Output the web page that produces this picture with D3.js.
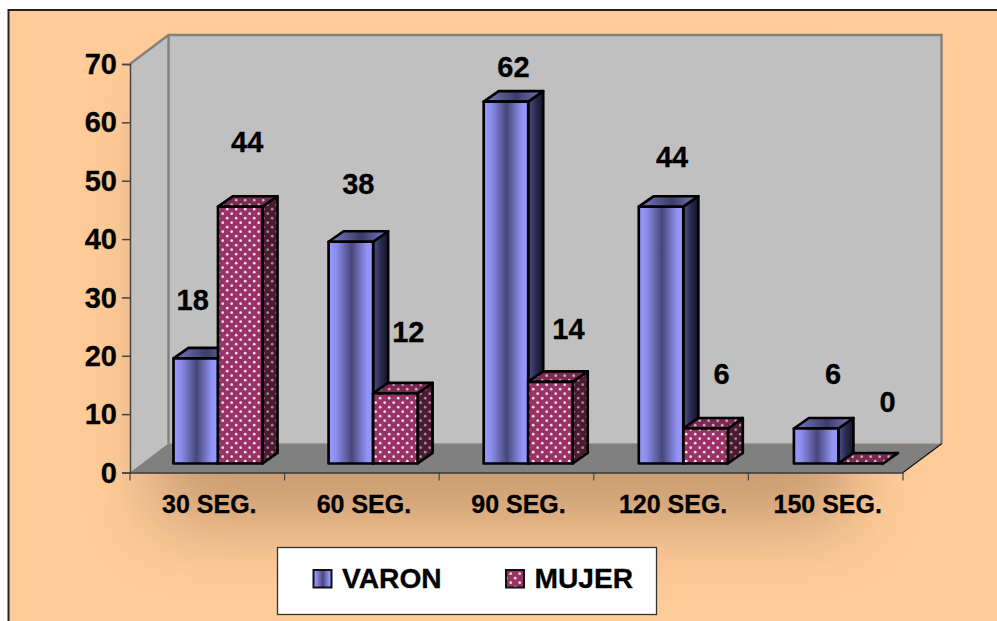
<!DOCTYPE html>
<html>
<head>
<meta charset="utf-8">
<style>
html,body{margin:0;padding:0;background:#fff;overflow:hidden}
svg{display:block}
text{font-family:"Liberation Sans",Arial,sans-serif;font-weight:bold;fill:#000;stroke:#000;stroke-width:0.3px}
</style>
<script src="https://cdn.jsdelivr.net/npm/d3@7/dist/d3.min.js"></script>
</head>
<body>
<svg id="chart" width="997" height="621"></svg>
<script>
// Chart values
const categories = ["30 SEG.", "60 SEG.", "90 SEG.", "120 SEG.", "150 SEG."];
const varon = [18, 38, 62, 44, 6];
const mujer = [44, 12, 14, 6, 0];
const yTicks = [0, 10, 20, 30, 40, 50, 60, 70];
const seriesNames = ["VARON", "MUJER"];

// Offsets of each value label from the top centre of its bar
const varonLift = [48.5, 47.5, 24.5, 39.5, 44.5];
const mujerLift = [54.5, 51.5, 42.5, 44.5, 52];
const varonShift = [-3, 7.5, 7.5, 11, 17];
const mujerShift = [7, 13, 18, 16, 27];

const svg = d3.select("#chart");
const defs = svg.append("defs");

// Plot box and 3D projection offsets
const plotLeft = 130, plotRight = 903, plotBottom = 472.5, plotTop = 64;
const wallDx = 38.5, wallDy = 29;
const baseDy = 9;                    // bars stand this far into the floor
const barDx = 15, barDy = 10.5;      // depth of each bar

const x = d3.scaleBand().domain(categories).range([plotLeft, plotRight]);
const xBars = d3.scaleBand().domain(categories).range([plotLeft, plotRight + 2.5]);
const y = d3.scaleLinear().domain([0, 70]).range([plotBottom, plotTop]);
const inner = d3.scaleBand().domain(seriesNames).range([43.5, 132.5]);

const gradient = (id, stops) => {
  const g = defs.append("linearGradient").attr("id", id).attr("x1", 0).attr("x2", 1).attr("y1", 0).attr("y2", 0);
  stops.forEach(([o, c]) => g.append("stop").attr("offset", o).attr("stop-color", c));
};
gradient("varonFront", [[0, "#9a9aff"], [0.17, "#8c8cec"], [0.52, "#47477a"], [0.86, "#9292f4"], [1, "#9a9aff"]]);
gradient("varonSide", [[0, "#50508a"], [0.5, "#2a2a50"], [1, "#14142a"]]);
gradient("varonTop", [[0, "#7a7ac8"], [0.55, "#3c3c68"], [1, "#7c7cca"]]);

const dots = (id, base, dot) => {
  const p = defs.append("pattern").attr("id", id).attr("patternUnits", "userSpaceOnUse")
    .attr("width", 9).attr("height", 9);
  p.append("rect").attr("width", 9).attr("height", 9).attr("fill", base);
  [[2.2, 2.2], [6.7, 6.7]].forEach(([cx, cy]) =>
    p.append("circle").attr("cx", cx).attr("cy", cy).attr("r", 1.35).attr("fill", dot));
};
dots("mujerFront", "#993366", "#eedfe8");
dots("mujerSide", "#4d1a33", "#a88a99");
dots("mujerTop", "#7a2952", "#c8afbd");

const blur = defs.append("filter").attr("id", "soft")
  .attr("x", "-30%").attr("y", "-30%").attr("width", "160%").attr("height", "160%");
blur.append("feGaussianBlur").attr("stdDeviation", 35);

// Page panel with its frame and soft shadow
svg.append("rect").attr("x", 9).attr("y", 10).attr("width", 988).attr("height", 611).attr("fill", "#ffcc99");
svg.append("rect").attr("x", 155).attr("y", 100).attr("width", 695).attr("height", 425)
  .attr("fill", "#5a3a20").attr("opacity", 0.33).attr("filter", "url(#soft)");
svg.append("path").attr("d", "M8.5,621V10H997").attr("fill", "none").attr("stroke", "#222").attr("stroke-width", 2);

const poly = pts => "M" + pts.map(p => p.join(",")).join("L") + "Z";

// Walls and floor
svg.append("path")
  .attr("d", poly([[plotLeft, plotBottom], [plotLeft, plotTop], [plotLeft + wallDx, plotTop - wallDy], [plotRight + wallDx, plotTop - wallDy], [plotRight + wallDx, plotBottom - wallDy], [plotLeft + wallDx, plotBottom - wallDy]]))
  .attr("fill", "#c0c0c0");
svg.append("path")
  .attr("d", `M${plotLeft},${plotTop}L${plotLeft + wallDx},${plotTop - wallDy}H${plotRight + wallDx}V${plotBottom - wallDy}M${plotLeft + wallDx},${plotTop - wallDy}V${plotBottom - wallDy}`)
  .attr("fill", "none").attr("stroke", "#808080").attr("stroke-width", 2.4);
svg.append("path")
  .attr("d", poly([[plotLeft, plotBottom], [plotLeft + wallDx, plotBottom - wallDy], [plotRight + wallDx, plotBottom - wallDy], [plotRight, plotBottom]]))
  .attr("fill", "#808080");
svg.append("line")
  .attr("x1", plotRight).attr("y1", plotBottom).attr("x2", plotRight + wallDx + 0.5).attr("y2", plotBottom - wallDy)
  .attr("stroke", "#111").attr("stroke-width", 1.2);

// One 3D bar: side and top faces, then the front
function bar(series, cat, value) {
  const x0 = xBars(cat) + inner(series), x1 = x0 + inner.bandwidth();
  const yBase = y(0) - baseDy, yTop = y(value) - baseDy;
  const key = series === "VARON" ? "varon" : "mujer";
  const g = svg.append("g").attr("stroke", "#000").attr("stroke-width", 2.7).attr("stroke-linejoin", "round");
  g.append("path").attr("d", poly([[x1, yTop], [x1 + barDx, yTop - barDy], [x1 + barDx, yBase - barDy], [x1, yBase]]))
    .attr("fill", `url(#${key}Side)`);
  g.append("path").attr("d", poly([[x0, yTop], [x0 + barDx, yTop - barDy], [x1 + barDx, yTop - barDy], [x1, yTop]]))
    .attr("fill", `url(#${key}Top)`);
  if (value > 0) {
    g.append("rect").attr("x", x0).attr("y", yTop).attr("width", x1 - x0).attr("height", yBase - yTop)
      .attr("fill", `url(#${key}Front)`);
  }
}
categories.forEach((c, i) => {
  bar("VARON", c, varon[i]);
  bar("MUJER", c, mujer[i]);
});

// Value labels
const valueLabel = (series, values, lifts, shifts) => categories.forEach((c, i) => {
  svg.append("text").attr("text-anchor", "middle")
    .attr("x", xBars(c) + inner(series) + inner.bandwidth() / 2 + shifts[i])
    .attr("y", y(values[i]) - baseDy - lifts[i])
    .attr("font-size", 29).text(values[i]);
});
valueLabel("VARON", varon, varonLift, varonShift);
valueLabel("MUJER", mujer, mujerLift, mujerShift);

// Axes
const yAxis = svg.append("g").attr("transform", `translate(${plotLeft},0)`)
  .call(d3.axisLeft(y).tickValues(yTicks).tickSize(8).tickPadding(5));
yAxis.selectAll("text").attr("font-size", 29).attr("dy", "0.33em");
yAxis.select(".domain").attr("stroke", "#444").attr("stroke-width", 1.5);
yAxis.selectAll(".tick line").attr("stroke", "#444").attr("stroke-width", 1.5);

const xAxis = svg.append("g").attr("transform", `translate(0,${plotBottom})`)
  .call(d3.axisBottom(x).tickSize(0).tickPadding(23));
xAxis.selectAll("text").attr("font-size", 25).attr("dx", 2);
xAxis.select(".domain").attr("stroke", "#333").attr("stroke-width", 1.6);
svg.append("g").selectAll("line")
  .data([...categories.map(c => x(c)), plotRight]).join("line")
  .attr("x1", d => d).attr("x2", d => d)
  .attr("y1", plotBottom).attr("y2", plotBottom + 8)
  .attr("stroke", "#444").attr("stroke-width", 1.2);

// Legend
svg.append("rect").attr("x", 277.5).attr("y", 547.5).attr("width", 379).attr("height", 67)
  .attr("fill", "#fff").attr("stroke", "#333").attr("stroke-width", 1.3);
const legendX = d3.scaleOrdinal().domain(seriesNames).range([313.5, 506]);
seriesNames.forEach(name => {
  const key = name === "VARON" ? "varon" : "mujer";
  svg.append("rect").attr("x", legendX(name)).attr("y", 570).attr("width", 18).attr("height", 17.5)
    .attr("fill", `url(#${key}Front)`).attr("stroke", "#111").attr("stroke-width", 2);
  svg.append("text").attr("x", legendX(name) + 28.5).attr("y", 588).attr("font-size", 28.2).text(name);
});
</script>
</body>
</html>
